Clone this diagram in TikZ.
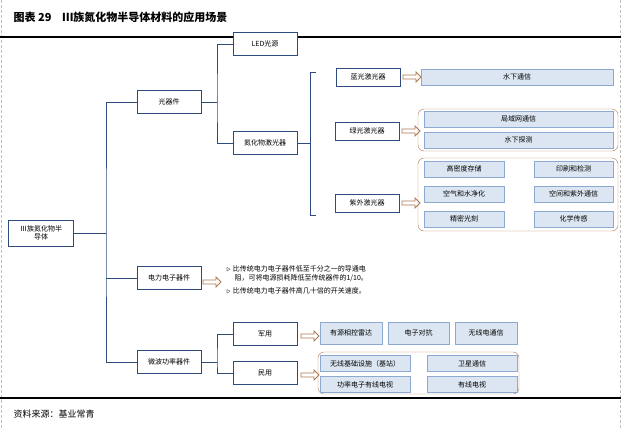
\documentclass[tikz,border=0pt]{standalone}
\usepackage{fontspec}
\setmainfont{Noto Sans CJK SC}
\usetikzlibrary{shapes.arrows, positioning, calc}
\definecolor{navy}{HTML}{2F4A7F}
\definecolor{boxfill}{HTML}{DCE6F2}
\definecolor{boxline}{HTML}{8EA9CF}
\definecolor{brownline}{HTML}{B07850}

\begin{document}
\begin{tikzpicture}[x=1pt, y=-1pt,
    cat/.style={rectangle, draw=navy, fill=white, thick, minimum width=64pt, minimum height=23pt, font=\fontsize{7}{8.5}\selectfont},
    laser/.style={rectangle, draw=navy, thick, minimum width=64pt, minimum height=18pt, font=\fontsize{7}{8.5}\selectfont},
    app/.style={rectangle, draw=boxline, fill=boxfill, thick, minimum height=16pt, font=\fontsize{7}{8.5}\selectfont},
    group/.style={draw=brownline, rounded corners=6pt},
    hollow/.style={single arrow, draw=brownline, thick, fill=white, minimum height=18pt, minimum width=10pt, single arrow head extend=2pt, inner sep=1pt},
    link/.style={draw=navy, thick}
]
\useasboundingbox (0,0) rectangle (621,429);
\draw[gray!50, densely dashed] (1,0) -- (1,429) (620,0) -- (620,429);

% title and rules
\node[anchor=west, font=\bfseries\fontsize{11}{13}\selectfont] (title) at (10,17) {图表 29\quad Ⅲ族氮化物半导体材料的应用场景};
\draw[line width=1.5pt] (0,37) -- (621,37);
\draw[line width=1.5pt] (0,398) -- (621,398);
\node[anchor=west, font=\fontsize{9}{11}\selectfont] (source) at (10,414) {资料来源：基业常青};

% level 1
\node[cat, minimum width=65pt, minimum height=26pt, align=center] (root) at (41,233) {Ⅲ族氮化物半\\导体};
\node[cat] (optic) at (169,102) {光器件};
\node[cat] (power) at (169,278) {电力电子器件};
\node[cat] (micro) at (169,362) {微波功率器件};
\coordinate (trunk) at (106,233);
\draw[link] (root.east) -- (trunk);
\draw[link] (optic.west) -| (trunk) |- (micro.west);
\draw[link] (power.west) -- (power.west -| trunk);

% optical devices
\node[cat] (led) at (265,44) {LED光源};
\node[cat] (nitride) at (265,143) {氮化物激光器};
\coordinate (obranch) at (217,102);
\draw[link] (optic.east) -- (obranch);
\draw[link] (led.west) -| (obranch) |- (nitride.west);

% laser bracket
\coordinate (brk) at (310,143);
\draw[link] (nitride.east) -- (brk);
\draw[link] (316,72) -- (310,72) -- (310,215) -- (316,215);

\node[laser] (blue) at (368,77) {蓝光激光器};
\node[laser] (green) at (367,131) {绿光激光器};
\node[laser] (uv) at (367,203) {紫外激光器};

\node[hollow] (ablue) at (411,77) {};
\node[hollow] (agreen) at (410,131) {};
\node[hollow] (auv) at (410,203) {};

\node[app, minimum width=192pt] (water) at (517,77) {水下通信};

\draw[group] (418,109) rectangle (618,151);
\node[app, minimum width=189pt] (lan) at (518.5,119) {局域网通信};
\node[app, minimum width=189pt] (detect) at (518.5,140) {水下探测};

\draw[group] (418,158) rectangle (618,231);
\node[app, minimum width=80pt] (storage) at (464,169) {高密度存储};
\node[app, minimum width=79pt] (print) at (573.5,169) {印刷和检测};
\node[app, minimum width=80pt] (purify) at (464,194) {空气和水净化};
\node[app, minimum width=79pt] (space) at (573.5,194) {空间和紫外通信};
\node[app, minimum width=80pt] (litho) at (464,219) {精密光刻};
\node[app, minimum width=79pt] (chem) at (573.5,219) {化学传感};

% power electronics
\node[hollow] (apower) at (211,282) {};
\node[anchor=north west, text width=200pt, align=left, font=\fontsize{7}{9}\selectfont] (notes) at (223,262)
  {$\triangleright$ 比传统电力电子器件低至千分之一的导通电\\\hspace*{8pt}阻，可将电源损耗降低至传统器件的1/10。\\[4pt]$\triangleright$ 比传统电力电子器件高几十倍的开关速度。};

% microwave
\node[cat] (mil) at (265,334) {军用};
\node[cat] (civ) at (265,373) {民用};
\coordinate (mbranch) at (217,362);
\draw[link] (micro.east) -- (mbranch);
\draw[link] (mil.west) -| (mbranch) |- (civ.west);

\node[hollow] (amil) at (309,336) {};
\node[app, minimum width=62pt, minimum height=22pt] (radar) at (351,333) {有源相控雷达};
\node[app, minimum width=61pt, minimum height=22pt] (ecm) at (418.5,333) {电子对抗};
\node[app, minimum width=62pt, minimum height=22pt] (radio) at (486,333) {无线电通信};

\node[hollow] (aciv) at (309,375) {};
\draw[group] (318,352) rectangle (519,394);
\node[app, minimum width=90pt] (base) at (365,363.5) {无线基础设施（基站）};
\node[app, minimum width=90pt] (sat) at (472,363.5) {卫星通信};
\node[app, minimum width=90pt] (amp) at (365,384.5) {功率电子有线电视};
\node[app, minimum width=90pt] (cable) at (472,384.5) {有线电视};
\end{tikzpicture}
\end{document}
